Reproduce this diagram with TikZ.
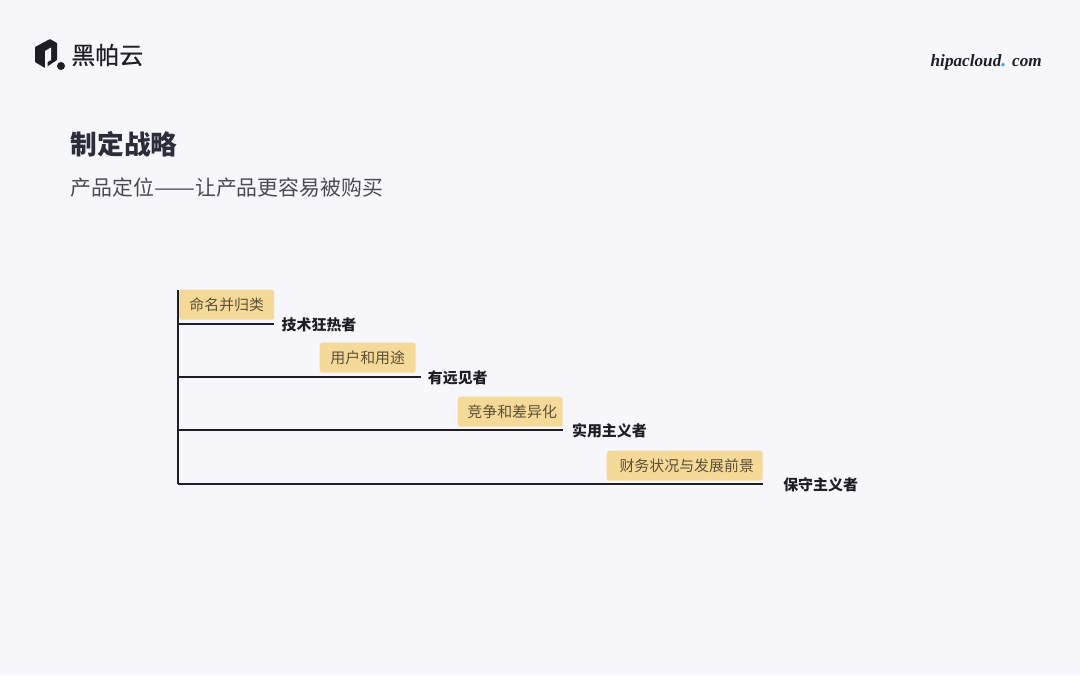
\documentclass[tikz,border=0pt]{standalone}
\usepackage{fontspec}
\usepackage{xcolor}
\usetikzlibrary{positioning}
\setmainfont{Noto Sans CJK SC}
\newfontfamily\latinSerif{Liberation Serif}
\definecolor{palPage}{HTML}{F7F7FB}
\definecolor{palTag}{HTML}{F5D999}
\definecolor{palInk}{HTML}{1E1E24}
\definecolor{palTitle}{HTML}{2C2D3A}
\definecolor{palSub}{HTML}{4A4A52}
\definecolor{palTagText}{HTML}{5C5135}
\definecolor{palDot}{HTML}{3F9BEE}
\begin{document}
\begin{tikzpicture}[
  x=0.75pt, y=-0.75pt,
  tag/.style={fill=palTag, rounded corners=2pt, inner sep=0pt, minimum height=22.5pt, text=palTagText, font=\fontsize{11.2}{13}\selectfont, anchor=south east},
  stage/.style={text=palInk, font=\fontsize{11.2}{13}\selectfont\bfseries, inner sep=0pt, yshift=-0.8pt},
  axisline/.style={draw=palInk, line width=1.5pt},
  branch/.style={draw=palInk, line width=1.5pt},
]
\fill[palPage] (0,0) rectangle (1080,675);
\useasboundingbox (0,0) rectangle (1080,675);

% logo
\fill[palInk, rounded corners=0.5pt] (35,47) -- (50,39) -- (57,43) -- (57,60) -- (45,68) -- (35,62) -- cycle;
\fill[palPage] (45,51) -- (51,47.5) -- (51,60) -- (47.5,62) -- (47.5,68.5) -- (45,68.5) -- cycle;
\fill[palInk] (61,66) circle (4);
\node[inner sep=0pt, anchor=west, text=palInk, font=\fontsize{18}{20}\selectfont\addfontfeature{FakeBold=0.6}] (logotext) at (71,55) {黑帕云};
\node[inner sep=0pt, anchor=east, text=palInk, font=\latinSerif\itshape\bfseries\fontsize{12.9}{15}\selectfont] (site) at (1042,62.5) {hipacloud\textcolor{palDot}{\fontsize{15}{15}\selectfont.} com};

% heading
\node[inner sep=0pt, anchor=west, text=palTitle, font=\fontsize{20}{24}\selectfont\bfseries] (title) at (70.5,144.5) {制定战略};
\node[inner sep=0pt, anchor=west, text=palSub, font=\fontsize{15.65}{19}\selectfont] (subtitle) at (70.5,188) {产品定位\scalebox{1.17}[1]{——}让产品更容易被购买};

% axis and branches
\coordinate (axisTop) at (178,290);
\coordinate (axisBot) at (178,484);
\coordinate (end1) at (274,324);
\coordinate (end2) at (421,377);
\coordinate (end3) at (563,430);
\coordinate (end4) at (763,484);
\draw[axisline] (axisTop) -- (axisBot);
\foreach \i in {1,2,3,4} {\draw[branch] (axisTop |- end\i) -- (end\i);}

\node[tag, minimum width=71.25pt] (tag1) at (274.5,320) {命名并归类};
\node[tag, minimum width=72pt] (tag2) at (416,373) {用户和用途};
\node[tag, minimum width=78.75pt] (tag3) at (563,427) {\hspace*{3pt}竞争和差异化};
\node[tag, minimum width=117pt] (tag4) at (763,481) {\hspace*{3pt}财务状况与发展前景};

\node[stage, right=5.6pt of end1] (stage1) {技术狂热者};
\node[stage, right=5pt of end2] (stage2) {有远见者};
\node[stage, right=6.6pt of end3] (stage3) {实用主义者};
\node[stage, right=15pt of end4] (stage4) {保守主义者};
\end{tikzpicture}
\end{document}
